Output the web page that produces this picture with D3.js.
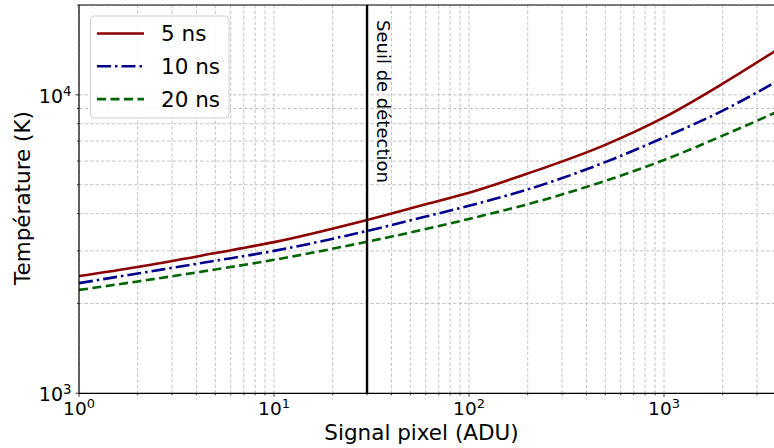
<!DOCTYPE html>
<html>
<head>
<meta charset="utf-8">
<script src="https://cdn.jsdelivr.net/npm/d3@7"></script>
<style>
  html, body { margin: 0; padding: 0; background: #fff; }
  svg { display: block; font-family: "DejaVu Sans", sans-serif; }
</style>
</head>
<body>
<svg id="chart" width="774" height="448"></svg>
<script>
// ---- data ----
const signalADU = [1, 2, 5, 10, 30, 60, 100, 200, 500, 1000, 2000, 3700];
const temp5ns  = [2470, 2650, 2950, 3210, 3810, 4300, 4700, 5450, 6800, 8400, 10900, 14000];
const temp10ns = [2340, 2520, 2780, 3000, 3500, 3910, 4250, 4820, 5950, 7200, 8850, 11000];
const temp20ns = [2220, 2370, 2600, 2800, 3220, 3550, 3840, 4300, 5150, 6050, 7300, 8700];
const seriesNames = ["5 ns", "10 ns", "20 ns"];
const threshold = 30;
const xDomain = [1, 4000];
const yDomain = [1000, 20000];
const xMajorTicks = [1, 10, 100, 1000];
const yMajorTicks = [1000, 10000];

(function () {
const svg = d3.select("#chart");
const W = 774, H = 448;
const pL = 79, pT = 5, pB = 393.3;
const decadeX = 195;
const pR = pL + decadeX * Math.log10(xDomain[1] / xDomain[0]);

const x = d3.scaleLog().domain(xDomain).range([pL, pR]);
const y = d3.scaleLog().domain(yDomain).range([pB, pT]);

const series = [
  {name: seriesNames[0], values: temp5ns,  color: "#8b0000", dash: null},
  {name: seriesNames[1], values: temp10ns, color: "#00008b", dash: "14,4,2.5,4"},
  {name: seriesNames[2], values: temp20ns, color: "#006400", dash: "9,4.5"}
];

svg.append("defs").append("clipPath").attr("id", "plotclip")
  .append("rect").attr("x", pL).attr("y", pT).attr("width", W - pL).attr("height", pB - pT);

const xGrid = [];
for (let d = 1; d <= 1000; d *= 10) for (let k = 1; k <= 9; k++) if (d * k <= xDomain[1]) xGrid.push(d * k);
const yGrid = [];
for (let d = 1000; d <= 10000; d *= 10) for (let k = 1; k <= 9; k++) if (d * k <= yDomain[1]) yGrid.push(d * k);

const grid = svg.append("g").attr("clip-path", "url(#plotclip)")
  .attr("stroke", "#bdbdbd").attr("stroke-width", 0.9).attr("stroke-dasharray", "3.5,2");
grid.selectAll("line.gx").data(xGrid).join("line").attr("class", "gx")
  .attr("x1", d => x(d)).attr("x2", d => x(d)).attr("y1", pT).attr("y2", pB);
grid.selectAll("line.gy").data(yGrid).join("line").attr("class", "gy")
  .attr("y1", d => y(d)).attr("y2", d => y(d)).attr("x1", pL).attr("x2", W);

const plot = svg.append("g").attr("clip-path", "url(#plotclip)");
const line = d3.line().curve(d3.curveMonotoneX)
  .x((d, i) => x(signalADU[i])).y(d => y(d));
series.forEach(s => {
  plot.append("path").attr("d", line(s.values))
    .attr("fill", "none").attr("stroke", s.color).attr("stroke-width", 2.6)
    .attr("stroke-dasharray", s.dash);
});

plot.append("line").attr("x1", x(threshold)).attr("x2", x(threshold))
  .attr("y1", pT).attr("y2", pB).attr("stroke", "#000").attr("stroke-width", 2.4);
svg.append("text")
  .attr("transform", `translate(${x(threshold) + 16.5},20) rotate(90)`)
  .attr("font-size", 18).attr("fill", "#000").attr("dominant-baseline", "central")
  .text("Seuil de détection");

const xAxis = d3.axisBottom(x).tickValues(xGrid).tickSize(0).tickFormat("");
const gx = svg.append("g").attr("transform", `translate(0,${pB})`).call(xAxis);
gx.select(".domain").remove();
const yAxis = d3.axisLeft(y).tickValues(yGrid).tickSize(0).tickFormat("");
const gy = svg.append("g").attr("transform", `translate(${pL},0)`).call(yAxis);
gy.select(".domain").remove();

svg.append("g").selectAll("line").data(xGrid).join("line")
  .attr("x1", d => x(d)).attr("x2", d => x(d)).attr("y1", pB)
  .attr("y2", d => pB + (xMajorTicks.includes(d) ? 3.5 : 2)).attr("stroke", "#000").attr("stroke-width", 0.8);
svg.append("g").selectAll("line").data(yGrid).join("line")
  .attr("y1", d => y(d)).attr("y2", d => y(d)).attr("x1", pL)
  .attr("x2", d => pL - (yMajorTicks.includes(d) ? 3.5 : 2)).attr("stroke", "#000").attr("stroke-width", 0.8);

svg.append("line").attr("x1", pL).attr("x2", pL).attr("y1", pT).attr("y2", pB).attr("stroke", "#000").attr("stroke-width", 1.2);
svg.append("line").attr("x1", pL).attr("x2", W).attr("y1", pB).attr("y2", pB).attr("stroke", "#000").attr("stroke-width", 1.2);
svg.append("line").attr("x1", pL).attr("x2", W).attr("y1", pT).attr("y2", pT).attr("stroke", "#000").attr("stroke-width", 1.2);

function pow10Label(sel, v) {
  const e = Math.round(Math.log10(v));
  sel.append("tspan").text("10");
  sel.append("tspan").attr("font-size", "0.7em").attr("dy", "-0.55em").text(e);
}
svg.append("g").selectAll("text").data(xMajorTicks).join("text")
  .attr("x", d => x(d)).attr("y", pB + 22).attr("text-anchor", "middle")
  .attr("font-size", 18.5).attr("fill", "#000")
  .each(function(d) { pow10Label(d3.select(this), d); });
svg.append("g").selectAll("text").data(yMajorTicks).join("text")
  .attr("x", pL - 7.5).attr("y", d => y(d) + 8).attr("text-anchor", "end")
  .attr("font-size", 19).attr("fill", "#000")
  .each(function(d) { pow10Label(d3.select(this), d); });

svg.append("text").attr("x", (pL + W) / 2 - 5).attr("y", 440).attr("text-anchor", "middle")
  .attr("font-size", 21.5).attr("fill", "#000").text("Signal pixel (ADU)");
svg.append("text").attr("transform", `translate(30,198) rotate(-90)`).attr("text-anchor", "middle")
  .attr("font-size", 21.5).attr("fill", "#000").text("Température (K)");

const lg = svg.append("g");
lg.append("rect").attr("x", 90.5).attr("y", 16).attr("width", 138.5).attr("height", 102)
  .attr("rx", 4).attr("fill", "#fff").attr("fill-opacity", 0.85).attr("stroke", "#d0d0d0").attr("stroke-width", 1);
series.forEach((s, i) => {
  const cy = 33.5 + i * 32.8;
  lg.append("line").attr("x1", 97).attr("x2", 144).attr("y1", cy).attr("y2", cy)
    .attr("stroke", s.color).attr("stroke-width", 2.6).attr("stroke-dasharray", s.dash);
  lg.append("text").attr("x", 161).attr("y", cy).attr("dominant-baseline", "central")
    .attr("font-size", 21.5).attr("fill", "#000").text(s.name);
});
})();
</script>
</body>
</html>
